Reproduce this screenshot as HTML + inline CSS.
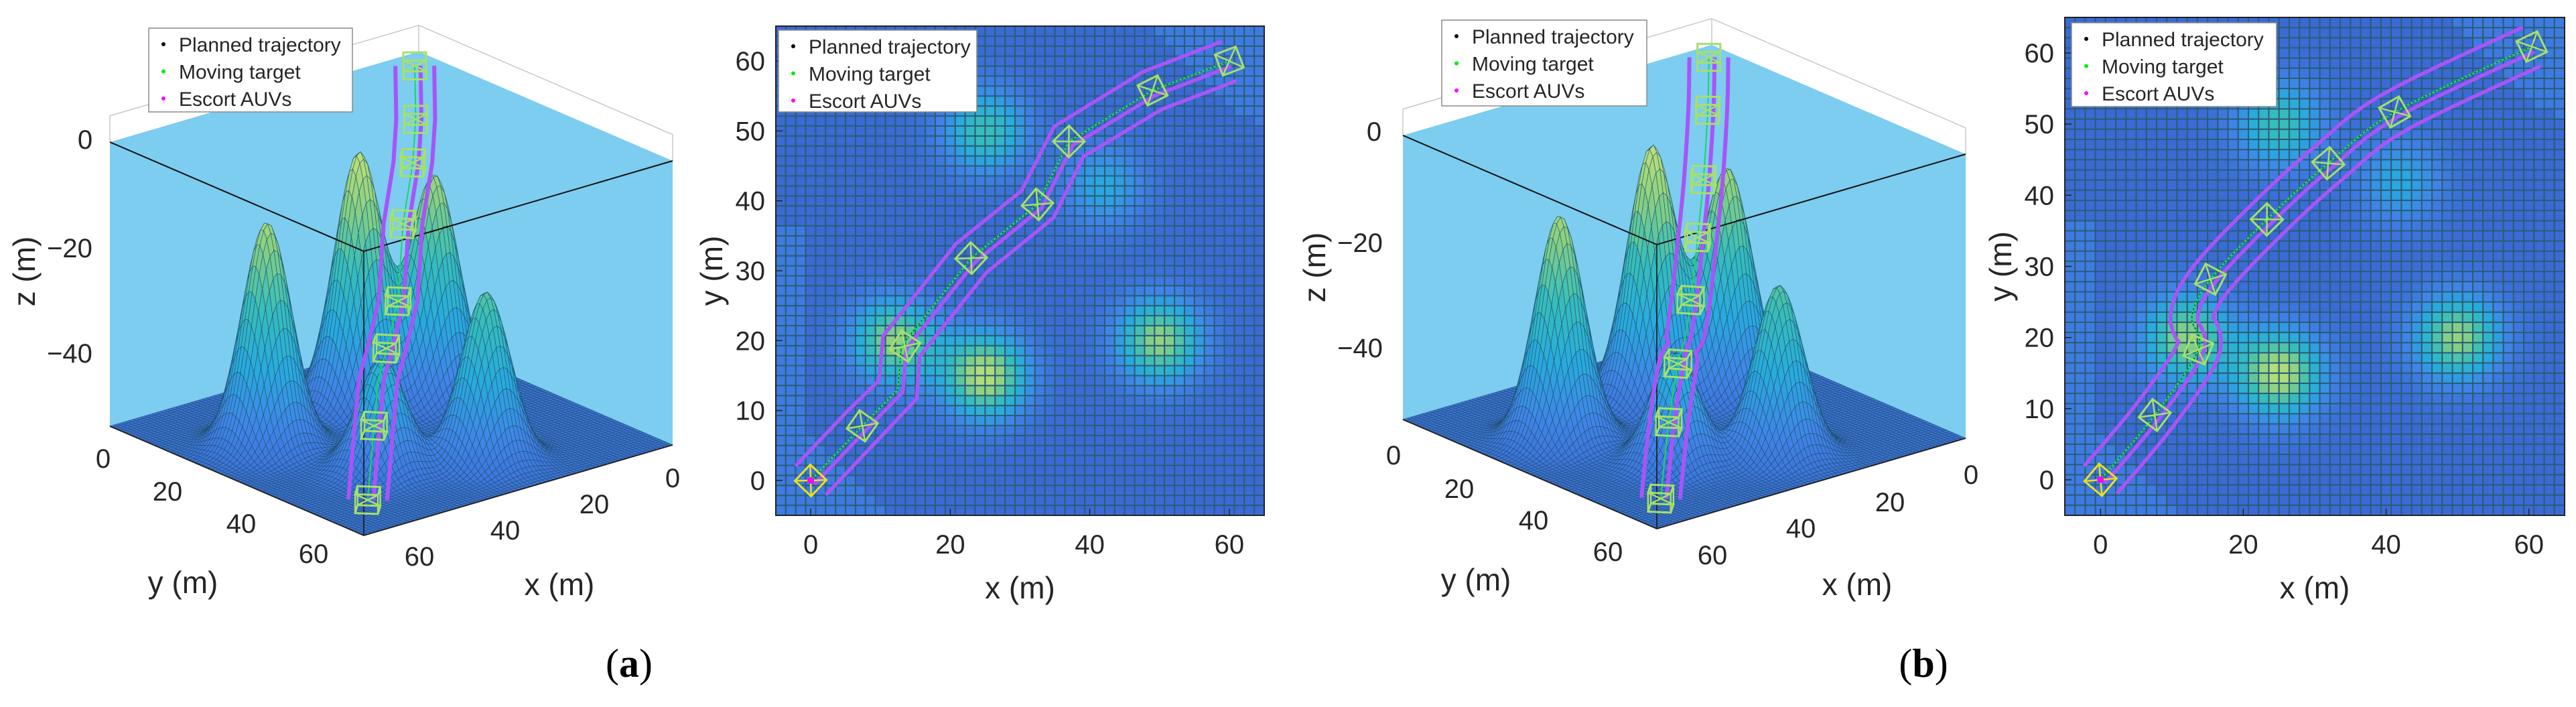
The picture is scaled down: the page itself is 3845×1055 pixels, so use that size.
<!DOCTYPE html>
<html><head><meta charset="utf-8">
<style>
html,body{margin:0;padding:0;background:#fff;}
svg{display:block;}
text{font-family:"Liberation Sans",Arial,sans-serif;fill:#262626;}
.cap{font-family:"Liberation Serif",serif;fill:#000;}
</style></head>
<body>
<svg id="fig" width="3845" height="1055" viewBox="0 0 3845 1055" xmlns="http://www.w3.org/2000/svg">
<rect width="3845" height="1055" fill="#fff"/>
<g id="root"></g>
<text class="cap" x="939" y="1010" font-size="60" text-anchor="middle">(<tspan font-weight="bold">a</tspan>)</text>
<text class="cap" x="2871" y="1010" font-size="60" text-anchor="middle">(<tspan font-weight="bold">b</tspan>)</text>
</svg>
<script>
// ---- data ----
const peakX = [25, 12, 50, 25, 42];
const peakY = [15, 20, 20, 50, 42];
const peakH = [48, 42, 42.5, 32, 21];
const peakSigma = 4.4;
const floorZ = -54;
// trajectory a
const pathAX = [0, 7.4, 12.5, 13, 23, 32.5, 37, 49, 60];
const pathAY = [0, 7.8, 13, 19.2, 31.8, 39.5, 48.5, 55.8, 60];
const pathAZ = [-50, -40, -34, -30, -27, -17, -9, -6, 0];
const boxAX = [0, 7.4, 13.5, 23, 32.5, 37, 49, 60];
const boxAY = [0, 7.8, 19.2, 31.8, 39.5, 48.5, 55.8, 60];
const boxAZ = [-50, -40, -30, -27, -17, -9, -6, 0];
// trajectory b
const pathBX = [0, 7.6, 13.7, 12.8, 15.4, 23.3, 31.9, 41.2, 60.4];
const pathBY = [0, 9.1, 18.3, 23, 28.2, 36.6, 44.5, 51.7, 60.9];
const pathBZ = [-51, -41, -34, -30, -25, -17.5, -11, -2.3, 0];
const boxBX = [0, 7.6, 13.7, 15.4, 23.3, 31.9, 41.2, 60.4];
const boxBY = [0, 9.1, 18.3, 28.2, 36.6, 44.5, 51.7, 60.9];
const boxBZ = [-51, -41, -34, -25, -17.5, -11, -2.3, 0];
const ticks2D = [0, 10, 20, 30, 40, 50, 60];
const ticksX2D = [0, 20, 40, 60];
const legendLabels = ["Planned trajectory", "Moving target", "Escort AUVs"];
const legendColors = ["#000000", "#00ee00", "#ff00ff"];

const NS = "http://www.w3.org/2000/svg";
const root = document.getElementById("root");
function el(tag, attrs, parent) {
  const e = document.createElementNS(NS, tag);
  for (const k in attrs) e.setAttribute(k, attrs[k]);
  (parent || root).appendChild(e);
  return e;
}
function terrain(x, y) {
  let s = 0;
  for (let i = 0; i < peakX.length; i++) {
    const d2 = (x - peakX[i]) ** 2 + (y - peakY[i]) ** 2;
    s += peakH[i] * Math.exp(-d2 / (2 * peakSigma * peakSigma));
  }
  return s;
}
const stops = [[0, [59, 106, 212]], [0.2, [64, 132, 232]], [0.4, [40, 170, 222]], [0.62, [56, 190, 184]], [0.82, [136, 208, 130]], [1, [188, 224, 120]]];
function cmap(t) {
  t = Math.max(0, Math.min(1, t));
  for (let i = 1; i < stops.length; i++) {
    if (t <= stops[i][0]) {
      const a = stops[i - 1], b = stops[i], f = (t - a[0]) / (b[0] - a[0]);
      const c = a[1].map((v, k) => Math.round(v + (b[1][k] - v) * f));
      return "rgb(" + c.join(",") + ")";
    }
  }
  return "rgb(188,224,120)";
}
function P3(ox, oy, x, y, z) {
  const a = (65 - x) / 70, b = (65 - y) / 70;
  return [ox + 543 + a * 461 - b * 379, oy + 375 - a * 135 - b * 163 - z * 7.85];
}
function smooth(xs, ys, zs, n) {
  const out = [];
  const m = xs.length;
  for (let i = 0; i < m - 1; i++) {
    const i0 = Math.max(0, i - 1), i3 = Math.min(m - 1, i + 2);
    for (let k = 0; k < n; k++) {
      const t = k / n, t2 = t * t, t3 = t2 * t;
      const f = (p0, p1, p2, p3) => 0.5 * (2 * p1 + (-p0 + p2) * t + (2 * p0 - 5 * p1 + 4 * p2 - p3) * t2 + (-p0 + 3 * p1 - 3 * p2 + p3) * t3);
      out.push([f(xs[i0], xs[i], xs[i + 1], xs[i3]), f(ys[i0], ys[i], ys[i + 1], ys[i3]), f(zs[i0], zs[i], zs[i + 1], zs[i3])]);
    }
  }
  out.push([xs[m - 1], ys[m - 1], zs[m - 1]]);
  return out;
}
function linear(xs, ys, zs) { return xs.map((x, i) => [x, ys[i], zs[i]]); }
function offsetPath(pts, d) {
  return pts.map((p, i) => {
    const a = pts[Math.max(0, i - 1)], b = pts[Math.min(pts.length - 1, i + 1)];
    let tx = b[0] - a[0], ty = b[1] - a[1];
    const L = Math.hypot(tx, ty) || 1;
    return [p[0] - ty / L * d, p[1] + tx / L * d, p[2]];
  });
}
function dirAt(xs, ys, i) {
  const a = Math.max(0, i - 1), b = Math.min(xs.length - 1, i + 1);
  const tx = xs[b] - xs[a], ty = ys[b] - ys[a], L = Math.hypot(tx, ty) || 1;
  return [tx / L, ty / L];
}
// map planar path coords into the 3D view's frame (trajectory plotted reversed)
function to3(x, y) {
  const m = (x + y) / 2, w = (x - y) / 2;
  return [60 - m + 0.25 * w, 60 - m - 0.25 * w];
}
function legend(x, y, w, h, name) {
  const g = el("g", {});
  
  
  el("rect", { x: x, y: y, width: w, height: h, fill: "#fff", stroke: "#8a8a8a", "stroke-width": 1.5 }, g);
  for (let i = 0; i < legendLabels.length; i++) {
    const cy = y + 24 + i * 40.5;
    const d = el("circle", { cx: x + 22, cy: cy, r: 3, fill: legendColors[i] }, g);
    
    
    const t = el("text", { x: x + 45, y: cy + 11, "font-size": 30 }, g);
    t.textContent = legendLabels[i];
    
    
  }
}
function txt(x, y, s, size, anchor, name, rot) {
  const t = el("text", { x: x, y: y, "font-size": size, "text-anchor": anchor || "middle" });
  if (rot) t.setAttribute("transform", "rotate(-90 " + x + " " + y + ")");
  t.textContent = s;
  
  
  return t;
}

// ---- 3D panel ----
function panel3D(ox, oy, pts, bxs, bys, bzs, labels, pfx) {
  const g = el("g", {});
  
  
  const L0 = P3(ox, oy, 65, -5, 0), F0 = P3(ox, oy, 65, 65, 0), R0 = P3(ox, oy, -5, 65, 0), B0 = P3(ox, oy, -5, -5, 0);
  const Lf = P3(ox, oy, 65, -5, floorZ), Ff = P3(ox, oy, 65, 65, floorZ), Rf = P3(ox, oy, -5, 65, floorZ);
  const Lt = P3(ox, oy, 65, -5, 5), Rt = P3(ox, oy, -5, 65, 5), Bt = P3(ox, oy, -5, -5, 5);
  const pp = a => a.map(p => p.join(",")).join(" ");
  const water = el("polygon", { points: pp([L0, B0, R0, Rf, Ff, Lf]), fill: "#7ccdf0" }, g);
  
  
  el("polyline", { points: pp([Lt, Bt, Rt]), fill: "none", stroke: "#c8c8c8", "stroke-width": 1.5 }, g);
  [[Lt, L0], [Bt, B0], [Rt, R0]].forEach(s => el("line", { x1: s[0][0], y1: s[0][1], x2: s[1][0], y2: s[1][1], stroke: "#c8c8c8", "stroke-width": 1.5 }, g));
  // terrain mesh
  const mg = el("g", { stroke: "#1f4d68", "stroke-width": 0.7, "stroke-opacity": 0.8 }, g);
  
  
  const N = 80, st = 70 / N;
  for (let s = 0; s <= 2 * (N - 1); s++) {
    for (let i = 0; i < N; i++) {
      const j = s - i; if (j < 0 || j >= N) continue;
      const x0 = -5 + i * st, y0 = -5 + j * st, x1 = x0 + st, y1 = y0 + st;
      const h = terrain(x0 + st / 2, y0 + st / 2);
      const c = [[x0, y0], [x1, y0], [x1, y1], [x0, y1]].map(q => P3(ox, oy, q[0], q[1], floorZ + terrain(q[0], q[1])));
      el("polygon", { points: pp(c), fill: cmap(h / 48 * 0.92 + 0.08) }, mg);
    }
  }
  // front edges
  el("polyline", { points: pp([L0, F0, R0]), fill: "none", stroke: "#111", "stroke-width": 2 }, g);
  el("line", { x1: F0[0], y1: F0[1], x2: Ff[0], y2: Ff[1], stroke: "#111", "stroke-width": 1.5 }, g);
  el("polyline", { points: pp([Lf, Ff, Rf]), fill: "none", stroke: "#222", "stroke-width": 2 }, g);
  // trajectory
  const tg = el("g", {}, g);
  
  
  const tpts = pts.map(p => { const q = to3(p[0], p[1]); return [q[0], q[1], p[2]]; });
  const proj = p => P3(ox, oy, p[0], p[1], p[2]);
  [-3.4, -1.0, 3.4].forEach(d => {
    const line = el("polyline", { points: pp(offsetPath(tpts, d).map(proj)), fill: "none", stroke: "#a855f7", "stroke-width": 6, "stroke-linejoin": "round" }, tg);
    
    
  });
  const tl = el("polyline", { points: pp(tpts.map(proj)), fill: "none", stroke: "#1fd36a", "stroke-width": 2 }, tg);
  
  
  const bx3 = bxs.map((x, i) => to3(x, bys[i]));
  const bX = bx3.map(q => q[0]), bY = bx3.map(q => q[1]);
  for (let i = 0; i < bX.length; i++) {
    const z = bzs[i];
    const [dx, dy] = dirAt(bX, bY, i);
    const s = 2.0, nx = -dy, ny = dx;
    const base = [[1, 1], [1, -1], [-1, -1], [-1, 1]].map(k => [bX[i] + (dx * k[0] + nx * k[1]) * s, bY[i] + (dy * k[0] + ny * k[1]) * s]);
    const lo = base.map(q => proj([q[0], q[1], z - 1.8]));
    const hi = base.map(q => proj([q[0], q[1], z + 1.8]));
    const b = el("polygon", { points: pp(lo), fill: "none", stroke: "#a6e06a", "stroke-width": 3 }, tg);
    
    
    el("polygon", { points: pp(hi), fill: "none", stroke: "#a6e06a", "stroke-width": 3 }, tg);
    for (let k = 0; k < 4; k++) el("line", { x1: lo[k][0], y1: lo[k][1], x2: hi[k][0], y2: hi[k][1], stroke: "#a6e06a", "stroke-width": 2.5 }, tg);
    el("line", { x1: lo[0][0], y1: lo[0][1], x2: hi[2][0], y2: hi[2][1], stroke: "#a6e06a", "stroke-width": 2.5 }, tg);
    el("line", { x1: lo[1][0], y1: lo[1][1], x2: hi[3][0], y2: hi[3][1], stroke: "#a6e06a", "stroke-width": 2.5 }, tg);
  }
  labels();
}

// ---- 2D panel ----
function panel2D(L, R, T, B, pts, bxs, bys, pfx, clipId) {
  const sx = x => L + (x + 5) / 70 * (R - L);
  const sy = y => B - (y + 5) / 70 * (B - T);
  const g = el("g", {});
  
  
  const cp = el("clipPath", { id: clipId }, g);
  el("rect", { x: L, y: T, width: R - L, height: B - T }, cp);
  const hg = el("g", { "clip-path": "url(#" + clipId + ")", stroke: "#2a5d78", "stroke-width": 2 }, g);
  
  
  const N = 49, st = 70 / N;
  for (let i = 0; i < N; i++) for (let j = 0; j < N; j++) {
    const x = -5 + (i + 0.5) * st, y = -5 + (j + 0.5) * st;
    const light = (x < -1 && y < 37) || (y + 0.95 * x < 6) || ((x - 48) > 17 * (65 - y) / 15.4);
    const t = Math.pow(terrain(x, y) / 48, 1.1) * 0.98 + (light ? 0.12 : 0.0);
    el("rect", { x: sx(-5 + i * st), y: sy(-5 + (j + 1) * st), width: (R - L) / N, height: (B - T) / N, fill: cmap(t) }, hg);
  }
  const tg = el("g", { "clip-path": "url(#" + clipId + ")" }, g);
  
  
  const pp = a => a.map(p => sx(p[0]) + "," + sy(p[1])).join(" ");
  [-3.0, -0.8, 3.0].forEach(d => {
    const line = el("polyline", { points: pp(offsetPath(pts, d)), fill: "none", stroke: "#a855f7", "stroke-width": 5.5, "stroke-linejoin": "round" }, tg);
    
    
  });
  const tl = el("polyline", { points: pp(pts), fill: "none", stroke: "#1fd36a", "stroke-width": 2.5 }, tg);
  
  
  const pl = el("polyline", { points: pp(pts), fill: "none", stroke: "#111", "stroke-width": 1.2, "stroke-dasharray": "2 4" }, tg);
  
  
  for (let i = 0; i < bxs.length; i++) {
    const [dx, dy] = dirAt(bxs, bys, i);
    const s = 1.6, nx = -dy, ny = dx;
    const c = [[1, 1], [1, -1], [-1, -1], [-1, 1]].map(k => [bxs[i] + (dx * k[0] + nx * k[1]) * s, bys[i] + (dy * k[0] + ny * k[1]) * s]);
    const col = i === 0 ? "#e8e020" : "#a6e06a";
    const b = el("polygon", { points: pp(c), fill: "none", stroke: col, "stroke-width": 3 }, tg);
    
    
    el("line", { x1: sx(c[0][0]), y1: sy(c[0][1]), x2: sx(c[2][0]), y2: sy(c[2][1]), stroke: col, "stroke-width": 2.5 }, tg);
    el("line", { x1: sx(c[1][0]), y1: sy(c[1][1]), x2: sx(c[3][0]), y2: sy(c[3][1]), stroke: col, "stroke-width": 2.5 }, tg);
  }
  const st0 = el("circle", { cx: sx(0), cy: sy(0), r: 5, fill: "#ff00ff" }, tg);
  
  
  const fr = el("rect", { x: L, y: T, width: R - L, height: B - T, fill: "none", stroke: "#222", "stroke-width": 2 }, g);
  
  
  ticks2D.forEach(v => {
    el("line", { x1: L, y1: sy(v), x2: L + 10, y2: sy(v), stroke: "#222", "stroke-width": 1.5 }, g);
    txt(L - 16, sy(v) + 14, String(v), 40, "end", "y-tick-label");
  });
  ticksX2D.forEach(v => {
    el("line", { x1: sx(v), y1: B, x2: sx(v), y2: B - 10, stroke: "#222", "stroke-width": 1.5 }, g);
    txt(sx(v), B + 57, String(v), 40, "middle", "x-tick-label");
  });
  txt((L + R) / 2, 893, "x (m)", 46, "middle", "x-axis-title");
  txt(L - 80, (T + B) / 2, "y (m)", 46, "middle", "y-axis-title", true);
}

const ptsA = linear(pathAX, pathAY, pathAZ);
const ptsB = smooth(pathBX, pathBY, pathBZ, 8);

panel3D(0, 0, ptsA, boxAX, boxAY, boxAZ, () => {
  txt(127, 222, "0", 40, "middle", "z-tick-label");
  txt(104, 384, "\u221220", 40, "middle", "z-tick-label");
  txt(104, 541, "\u221240", 40, "middle", "z-tick-label");
  txt(154, 698, "0", 40, "middle", "y-tick-label");
  txt(250, 747, "20", 40, "middle", "y-tick-label");
  txt(360, 795, "40", 40, "middle", "y-tick-label");
  txt(468, 840, "60", 40, "middle", "y-tick-label");
  txt(1004, 727, "0", 40, "middle", "x-tick-label");
  txt(887, 766, "20", 40, "middle", "x-tick-label");
  txt(754, 805, "40", 40, "middle", "x-tick-label");
  txt(626, 844, "60", 40, "middle", "x-tick-label");
  txt(273, 885, "y (m)", 46, "middle", "y-axis-title");
  txt(835, 888, "x (m)", 46, "middle", "x-axis-title");
  txt(52, 405, "z (m)", 46, "middle", "z-axis-title", true);
}, "panel-a");
panel3D(1930, -10, ptsB, boxBX, boxBY, boxBZ, () => {
  txt(2051, 210, "0", 40, "middle", "z-tick-label");
  txt(2030, 376, "\u221220", 40, "middle", "z-tick-label");
  txt(2030, 533, "\u221240", 40, "middle", "z-tick-label");
  txt(2080, 693, "0", 40, "middle", "y-tick-label");
  txt(2178, 743, "20", 40, "middle", "y-tick-label");
  txt(2289, 790, "40", 40, "middle", "y-tick-label");
  txt(2400, 837, "60", 40, "middle", "y-tick-label");
  txt(2942, 722, "0", 40, "middle", "x-tick-label");
  txt(2821, 763, "20", 40, "middle", "x-tick-label");
  txt(2688, 802, "40", 40, "middle", "x-tick-label");
  txt(2556, 842, "60", 40, "middle", "x-tick-label");
  txt(2203, 881, "y (m)", 46, "middle", "y-axis-title");
  txt(2772, 888, "x (m)", 46, "middle", "x-axis-title");
  txt(1978, 399, "z (m)", 46, "middle", "z-axis-title", true);
}, "panel-b");

panel2D(1158, 1887, 39, 769, ptsA, boxAX, boxAY, "panel-a", "clipA");
panel2D(3082, 3828, 26, 769, ptsB, boxBX, boxBY, "panel-b", "clipB");

legend(222, 42, 304, 125, "legend-a-3d");
legend(1162, 45, 296, 122, "legend-a-2d");
legend(2152, 30, 306, 128, "legend-b-3d");
legend(3092, 34, 306, 125, "legend-b-2d");
</script>
</body></html>
